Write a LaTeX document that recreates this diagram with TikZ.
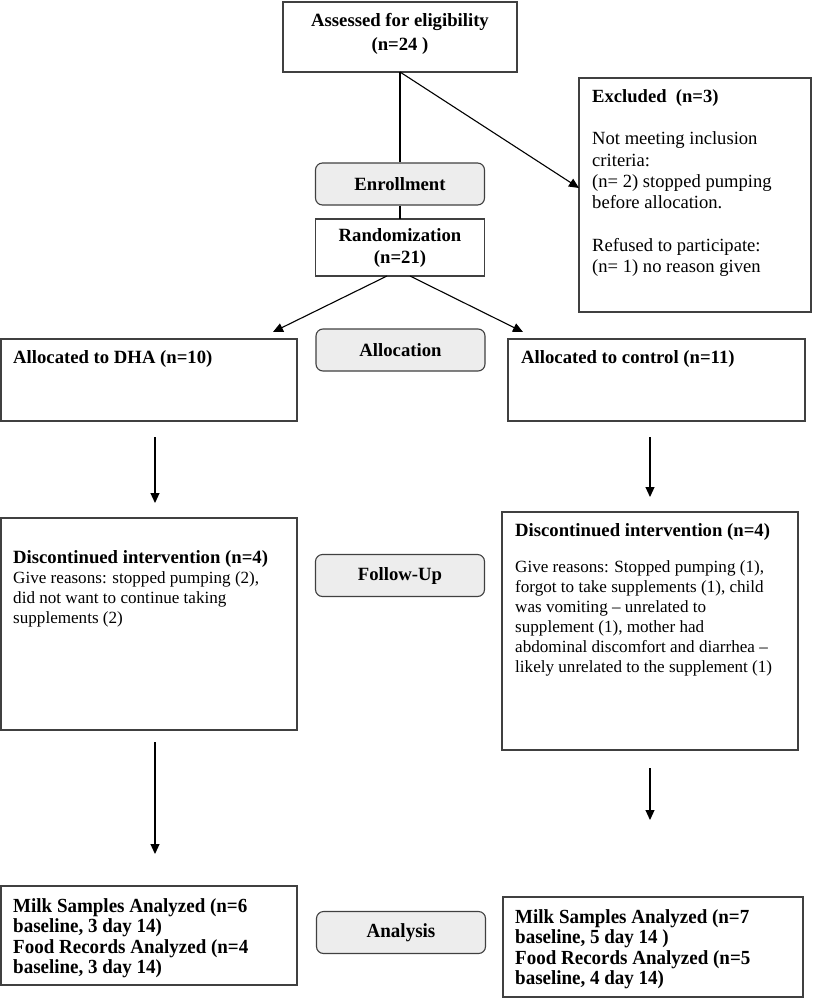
\documentclass[tikz,border=0pt]{standalone}
\usepackage{fontspec}
\setmainfont{Liberation Serif}
\newfontfamily\condfont[FakeStretch=0.95]{Liberation Serif}
\usetikzlibrary{arrows.meta}
\begin{document}
\begin{tikzpicture}[x=1pt,y=-1pt,
  box/.style={draw=black!75, line width=1.1pt, inner sep=0pt, outer sep=0pt},
  gbox/.style={draw=black!75, line width=1.1pt, fill=black!7, rounded corners=7pt, inner sep=0pt,
    minimum width=169pt, minimum height=42pt, font=\fontsize{18.7}{22}\selectfont\bfseries},
  ln/.style={black, line width=1.1pt},
  arr/.style={ln, -{Triangle[length=10pt,width=9pt]}},
  hd/.style={anchor=north west, inner sep=0pt, align=left, font=\fontsize{18.7}{21.3}\selectfont\bfseries},
  tx/.style={anchor=north west, inner sep=0pt, align=left, font=\fontsize{17.1}{20}\selectfont},
  ex/.style={anchor=north west, inner sep=0pt, align=left, font=\fontsize{18.6}{21.3}\selectfont},
  cd/.style={anchor=north west, inner sep=0pt, align=left, font=\fontsize{20}{20.5}\selectfont\condfont\bfseries},
]
\useasboundingbox (0,0) rectangle (812,1001);

% boxes
\node[box, minimum width=234pt, minimum height=70pt] (assess) at (400,37) {};
\node[box, minimum width=232pt, minimum height=234pt] (excl) at (695,195) {};
\node[gbox] (enroll) at (400,184) {Enrollment};
\node[box, minimum width=169pt, minimum height=57pt, align=center,
      font=\fontsize{18.7}{22}\selectfont\bfseries] (rand) at (400,247.5) {Randomization\\(n=21)};
\node[box, minimum width=296pt, minimum height=82pt] (dha) at (149,380) {};
\node[gbox] (alloc) at (400.5,350) {Allocation};
\node[box, minimum width=297pt, minimum height=82pt] (ctrl) at (656.5,380) {};
\node[box, minimum width=296pt, minimum height=212pt] (disc1) at (149,624) {};
\node[gbox] (follow) at (400,575.5) {Follow-Up};
\node[box, minimum width=296pt, minimum height=238pt] (disc2) at (650,631) {};
\node[box, minimum width=296pt, minimum height=99pt] (res1) at (149,935.5) {};
\node[gbox, font=\fontsize{20}{22}\selectfont\condfont\bfseries] (analysis) at (401,932.5) {Analysis};
\node[box, minimum width=300pt, minimum height=100pt] (res2) at (653,947) {};

% texts
\node[inner sep=0pt, align=center, font=\fontsize{18.7}{24}\selectfont\bfseries] (assesst) at (400,34) {Assessed for eligibility\\(n=24 )};
\node[ex] (exclt) at (592,89) {\textbf{Excluded\ \ (n=3)}\\[21.3pt]
  Not meeting inclusion\\criteria:\\(n= 2) stopped pumping\\before allocation.\\[21.3pt]
  Refused to participate:\\(n= 1) no reason given};
\node[hd] (dhat) at (13,350) {Allocated to DHA (n=10)};
\node[hd] (ctrlt) at (521,350) {Allocated to control (n=11)};
\node[hd] (disc1h) at (13,550) {Discontinued intervention (n=4)};
\node[tx] (disc1t) at (13,571) {Give reasons: stopped pumping (2),\\did not want to continue taking\\supplements (2)};
\node[hd] (disc2h) at (515,523) {Discontinued intervention (n=4)};
\node[tx] (disc2t) at (515,560) {Give reasons: Stopped pumping (1),\\forgot to take supplements (1), child\\was vomiting -- unrelated to\\supplement (1), mother had\\abdominal discomfort and diarrhea --\\likely unrelated to the supplement (1)};
\node[cd] (res1t) at (13,898) {Milk Samples Analyzed (n=6\\baseline, 3 day 14)\\Food Records Analyzed (n=4\\baseline, 3 day 14)};
\node[cd] (res2t) at (515,909) {Milk Samples Analyzed (n=7\\baseline, 5 day 14 )\\Food Records Analyzed (n=5\\baseline, 4 day 14)};

% connectors
\draw[ln] (assess.south) -- (enroll.north);
\draw[arr] (assess.south) -- ([yshift=7pt]excl.west);
\draw[ln] (enroll.south) -- (rand.north);
\draw[arr] ([xshift=-13pt]rand.south) -- ([xshift=-24pt,yshift=7pt]dha.north east);
\draw[arr] ([xshift=10pt]rand.south) -- ([xshift=15pt,yshift=7pt]ctrl.north west);
\draw[arr] ([xshift=6pt,yshift=-16pt]dha.south) -- ([xshift=6pt,yshift=15pt]disc1.north);
\draw[arr] ([xshift=-6.5pt,yshift=-16pt]ctrl.south) -- ([yshift=15pt]disc2.north);
\draw[arr] ([xshift=6pt,yshift=-12pt]disc1.south) -- ([xshift=6pt,yshift=32pt]res1.north);
\draw[arr] ([yshift=-18pt]disc2.south) -- ([xshift=-3pt,yshift=77pt]res2.north);
\end{tikzpicture}
\end{document}
